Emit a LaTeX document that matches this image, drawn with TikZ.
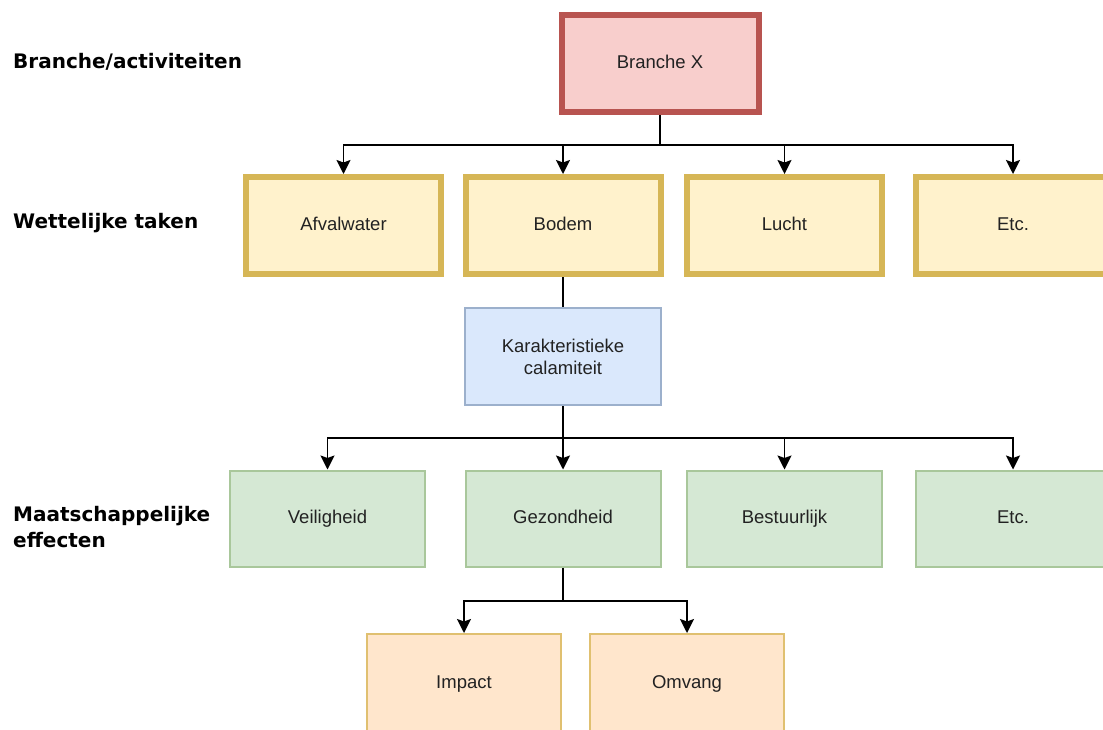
\documentclass[tikz,border=0pt]{standalone}
\usepackage{fontspec}
\setmainfont{Liberation Sans}
\newfontfamily\lblfont{DejaVu Sans}
\usetikzlibrary{arrows.meta}
\definecolor{redfill}{HTML}{F8CECC}
\definecolor{redline}{HTML}{B85450}
\definecolor{yelfill}{HTML}{FFF2CC}
\definecolor{yelline}{HTML}{D6B656}
\definecolor{blufill}{HTML}{DAE8FC}
\definecolor{bluline}{HTML}{9CB0CC}
\definecolor{grnfill}{HTML}{D5E8D4}
\definecolor{grnline}{HTML}{A9C79B}
\definecolor{orafill}{HTML}{FFE6CC}
\definecolor{oraline}{HTML}{E0C070}
\definecolor{txt}{HTML}{222222}
\tikzset{
  box/.style={rectangle, font=\fontsize{18.5}{22}\selectfont, text=txt, align=center, inner sep=0pt},
  one/.style={text height=13pt, text depth=4pt},
  redbox/.style={box, one, fill=redfill, draw=redline, line width=6pt, minimum width=197pt, minimum height=97pt},
  yelbox/.style={box, one, fill=yelfill, draw=yelline, line width=6pt, minimum width=195pt, minimum height=97pt},
  blubox/.style={box, fill=blufill, draw=bluline, line width=2pt, minimum width=196pt, minimum height=97pt},
  grnbox/.style={box, one, fill=grnfill, draw=grnline, line width=2pt, minimum width=195pt, minimum height=96pt},
  orabox/.style={box, one, fill=orafill, draw=oraline, line width=2pt, minimum width=194pt, minimum height=100pt},
  conn/.style={draw=black, line width=1.8pt},
  arr/.style={conn, -{Stealth[length=14pt, width=14pt, inset=2.5pt]}},
  lbl/.style={anchor=west, font=\lblfont\bfseries\fontsize{20}{26}\selectfont, align=left, inner sep=0pt}
}
\begin{document}
\begin{tikzpicture}[x=1pt, y=-1pt]
\useasboundingbox (0,0) rectangle (1103,729);
% labels
\node[lbl] (l1) at (13,62) {Branche/activiteiten};
\node[lbl] (l2) at (13,223) {Wettelijke taken};
\node[lbl] (l3) at (13,527) {Maatschappelijke\\effecten};
% boxes
\node[redbox] (bx) at (660,63.5) {Branche X};
\node[yelbox] (af) at (343.5,225.5) {Afvalwater};
\node[yelbox] (bo) at (563,225.5) {Bodem};
\node[yelbox] (lu) at (784.5,225.5) {Lucht};
\node[yelbox] (e1) at (1013,225.5) {Etc.};
\node[blubox] (kc) at (563,356.5) {Karakteristieke\\calamiteit};
\node[grnbox] (ve) at (327.5,518.5) {Veiligheid};
\node[grnbox] (ge) at (563,518.5) {Gezondheid};
\node[grnbox] (be) at (784.5,518.5) {Bestuurlijk};
\node[grnbox] (e2) at (1013,518.5) {Etc.};
\node[orabox] (im) at (464,684) {Impact};
\node[orabox] (om) at (687,684) {Omvang};
% junctions
\coordinate (j1) at (660,145);
\coordinate (j2) at (563,438);
\coordinate (j3) at (563,601);
% connectors
\draw[conn] (bx.south) -- (j1);
\draw[arr] (j1) -| (af.north);
\draw[arr] (j1) -| (bo.north);
\draw[arr] (j1) -| (lu.north);
\draw[arr] (j1) -| (e1.north);
\draw[conn] (bo.south) -- (kc.north);
\draw[conn] (kc.south) -- (j2);
\draw[arr] (j2) -| (ve.north);
\draw[arr] (j2) -- (ge.north);
\draw[arr] (j2) -| (be.north);
\draw[arr] (j2) -| (e2.north);
\draw[conn] (ge.south) -- (j3);
\draw[arr] (j3) -| (im.north);
\draw[arr] (j3) -| (om.north);
\end{tikzpicture}
\end{document}
